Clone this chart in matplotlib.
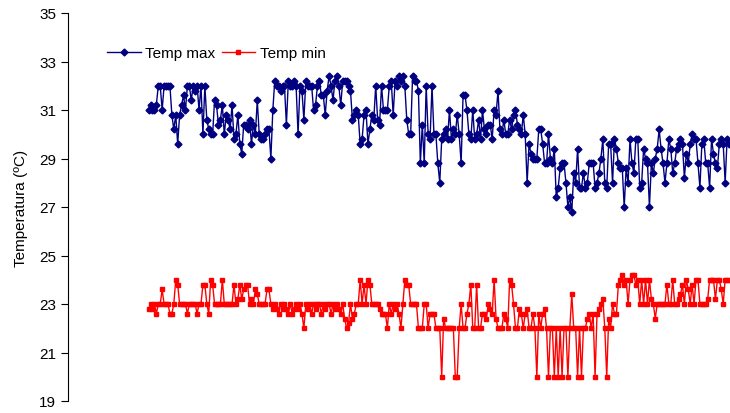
import numpy as np
import matplotlib
matplotlib.use('Agg')
import matplotlib.pyplot as plt

plt.rcParams['font.family'] = ['Liberation Sans', 'DejaVu Sans']

# daily maximum temperature (ºC)
temp_max = [
    31.0, 31.2, 31.0, 31.0, 31.2, 32.0, 32.0, 31.0, 32.0, 32.0,
    32.0, 32.0, 30.8, 30.2, 30.8, 29.6, 30.8, 31.2, 31.6, 31.0,
    32.0, 32.0, 31.4, 32.0, 31.8, 32.0, 31.0, 32.0, 30.0, 32.0,
    30.6, 30.2, 30.0, 30.0, 31.4, 31.2, 30.4, 30.6, 31.2, 30.0,
    30.8, 30.6, 30.2, 31.2, 29.8, 30.0, 30.8, 29.6,
    29.2, 30.4, 30.4, 30.2, 30.6, 29.6, 30.4, 30.0, 31.4, 30.0,
    29.8, 29.8, 30.0, 30.2, 30.2, 29.0, 31.0, 32.2, 32.0, 32.0,
    31.8, 32.0, 32.0, 30.4, 32.2, 32.0, 32.0, 32.2, 32.0, 30.0,
    32.0, 31.8, 30.6, 32.2, 32.0, 32.0, 32.0, 31.0, 31.2, 32.0,
    32.2, 31.6, 31.6, 30.8, 31.8, 32.4, 32.0, 31.4, 32.2, 32.4,
    32.0, 31.2, 32.2, 32.2, 32.2, 32.0, 31.8, 30.6, 30.8, 31.0,
    30.8, 29.6, 29.8, 30.8, 31.0, 29.6, 30.2, 30.8, 30.6, 32.0,
    30.6, 30.4, 32.0, 31.0, 31.0, 31.0, 32.0, 32.2, 30.8, 32.2,
    32.0, 32.4, 32.2, 32.4, 32.0, 30.6, 30.0, 30.0, 32.4, 32.2,
    32.2, 31.8, 28.8, 30.4, 28.8, 32.0, 30.0, 29.8, 32.0,
    30.0, 30.0, 28.8, 28.0, 29.8, 30.0, 30.2, 29.8, 31.0, 29.8,
    30.2, 30.0, 30.8, 30.0, 28.8, 31.6, 31.6, 31.0, 30.0, 29.8,
    31.0, 29.8, 30.0, 30.6, 29.8, 31.0, 30.2, 30.0, 30.4, 30.4,
    29.8, 31.0, 30.8, 31.8, 30.2, 30.0, 30.6, 30.0, 30.0, 30.6,
    30.2, 30.8, 31.0, 30.4, 30.2, 30.0, 30.8, 30.0, 28.0,
    29.6, 29.2, 29.0, 29.0, 29.0, 30.2, 30.2, 29.6, 28.8, 28.8,
    30.0, 29.0, 28.8, 29.4, 27.4, 27.8, 28.6, 28.8, 28.8, 28.0,
    27.0, 27.4, 26.8, 28.4, 28.0, 29.4, 27.8, 27.8, 28.4, 27.8,
    28.0, 28.8, 28.8, 28.8, 27.8, 28.0, 28.4, 29.0, 29.8, 28.0,
    27.8, 29.6, 29.6, 28.0, 29.8, 29.4, 28.8, 28.6,
    28.6, 27.0, 28.6, 28.0, 29.8, 28.8, 28.4, 29.8, 29.8, 27.8,
    28.0, 29.4, 29.0, 28.8, 27.0, 28.8, 28.4, 29.0, 29.4, 30.2,
    29.4, 28.8, 28.0, 28.8, 29.8, 29.4, 28.4, 28.8, 29.4, 29.6,
    29.8, 29.6, 28.2, 29.2, 28.8, 29.6, 30.0, 29.8, 29.8, 28.8,
    27.8, 29.6, 29.8, 28.8, 28.8, 27.8, 29.8, 29.2, 28.8, 28.6,
    29.6, 29.8, 29.6, 28.0, 29.8, 29.6,
]

# daily minimum temperature (ºC)
temp_min = [
    22.8, 23.0, 22.8, 23.0, 22.6, 23.0, 23.0, 23.6, 23.0, 23.0,
    23.0, 22.6, 22.6, 23.0, 24.0, 23.8, 23.0, 23.0, 23.0, 23.0,
    22.6, 23.0, 23.0, 23.0, 23.0, 22.6, 23.0, 23.0, 23.8, 23.8,
    23.0, 22.6, 24.0, 23.8, 23.0, 23.0, 23.0, 23.0, 24.0, 23.0,
    23.0, 23.0, 23.0, 23.0, 23.8, 23.0, 23.2, 23.8,
    23.2, 23.6, 23.8, 23.8, 23.0, 23.2, 23.0, 23.6, 23.4, 23.0,
    23.0, 23.0, 23.0, 23.6, 23.6, 23.0, 22.8, 23.0, 22.8, 22.6,
    23.0, 22.8, 23.0, 22.8, 22.6, 23.0, 22.6, 22.8, 23.0, 22.8,
    23.0, 22.6, 22.0, 23.0, 22.8, 23.0, 22.6, 23.0, 22.8, 23.0,
    23.0, 22.6, 23.0, 22.8, 23.0, 23.0, 22.6, 23.0, 22.8, 23.0,
    22.8, 22.6, 23.0, 22.4, 22.0, 22.2, 23.0, 22.4, 22.6, 23.0,
    23.0, 24.0, 23.0, 23.8, 23.0, 24.0, 23.8, 23.0, 23.0, 23.0,
    23.0, 22.8, 22.6, 22.6, 22.6, 22.0, 23.0, 22.6, 23.0, 22.8,
    23.0, 22.6, 22.0, 23.0, 24.0, 23.8, 23.8, 23.0, 23.0, 23.0,
    23.0, 22.0, 22.0, 22.0, 23.0, 23.0, 22.0, 22.6, 22.6,
    22.6, 22.0, 22.0, 22.0, 20.0, 22.4, 22.0, 22.0, 22.0, 22.0,
    22.0, 20.0, 20.0, 22.0, 23.0, 22.0, 22.0, 22.6, 23.0, 23.8,
    22.0, 22.0, 23.8, 22.0, 22.0, 22.6, 22.6, 22.4, 23.0, 22.8,
    22.6, 24.0, 22.4, 22.0, 22.0, 22.0, 22.6, 22.4, 22.0, 24.0,
    23.8, 23.0, 22.0, 22.0, 22.8, 22.6, 22.0, 22.6, 22.8,
    22.0, 22.0, 22.6, 22.0, 20.0, 22.6, 22.0, 22.6, 22.8, 22.0,
    20.0, 22.0, 22.0, 20.0, 22.0, 20.0, 22.0, 20.0, 22.0, 22.0,
    20.0, 22.0, 23.4, 22.0, 22.0, 20.0, 22.0, 20.0, 22.0, 22.0,
    22.4, 22.6, 22.0, 22.6, 20.0, 22.6, 22.8, 23.0, 23.2, 22.0,
    20.0, 22.4, 22.0, 23.0, 22.6, 22.6, 23.8, 24.0,
    24.2, 23.8, 24.0, 23.0, 24.0, 24.2, 24.2, 23.8, 24.0, 23.0,
    24.0, 23.0, 24.0, 23.0, 24.0, 23.2, 23.0, 22.4, 23.0, 23.0,
    23.0, 23.0, 23.0, 23.8, 23.0, 23.0, 24.0, 23.0, 23.0, 23.2,
    23.4, 23.8, 23.0, 24.0, 23.6, 23.0, 23.8, 23.0, 24.0, 24.0,
    23.0, 23.0, 23.0, 23.0, 23.2, 24.0, 24.0, 24.0, 23.2, 24.0,
    24.0, 23.6, 23.0, 24.0, 24.0, 24.0,
]

y_ticks = [19, 21, 23, 25, 27, 29, 31, 33, 35]

days = np.arange(len(temp_max))

fig = plt.figure(figsize=(7.3, 4.14), dpi=100)
ax = fig.add_axes([68 / 730, 12 / 414, 662 / 730, 388 / 414])

ax.plot(days, temp_max, color='#000080', lw=1, marker='D', ms=3.5,
        label='Temp max')
ax.plot(days, temp_min, color='#FF0000', lw=1, marker='s', ms=3.5,
        label='Temp min')

ax.set_ylim(19, 35)
ax.set_xlim(-41.5, len(days) - 0.5)
ax.set_yticks(y_ticks)
ax.set_xticks([])
ax.tick_params(axis='y', labelsize=11, length=5, width=0.8, direction='out')
ax.set_ylabel('Temperatura (ºC)', fontsize=11, labelpad=8)

for side in ['top', 'right', 'bottom']:
    ax.spines[side].set_visible(False)
ax.spines['left'].set_linewidth(0.8)

ax.legend(loc='upper left', bbox_to_anchor=(0.05, 0.93), ncol=2,
          frameon=False, fontsize=11, handlelength=2.2, columnspacing=0.4,
          handletextpad=0.3, borderaxespad=0)

fig.savefig('out.png', dpi=100)
